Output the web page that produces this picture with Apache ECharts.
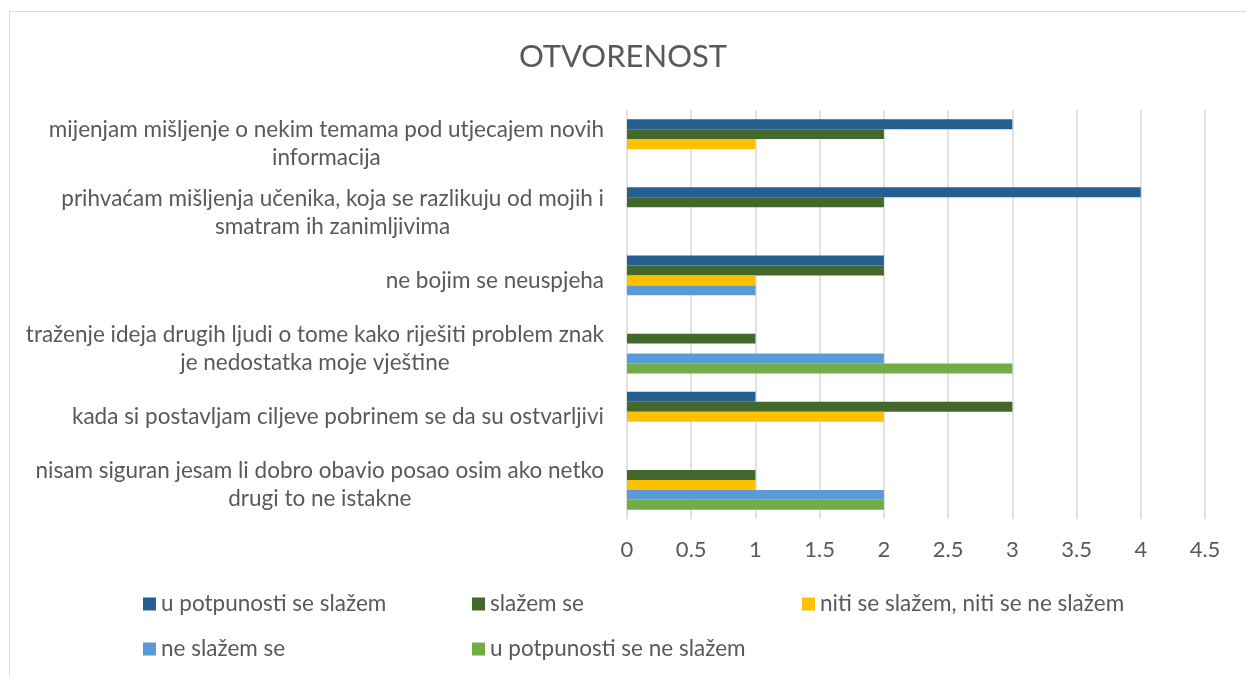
<!DOCTYPE html>
<html>
<head>
<meta charset="utf-8">
<script src="https://cdn.jsdelivr.net/npm/echarts@6/dist/echarts.min.js"></script>
<style>
  html, body { margin: 0; padding: 0; background: #fff; }
  #frame {
    position: absolute; left: 9px; top: 11px;
    width: 1300px; height: 720px;
    border: 1px solid #d9d9d9; box-sizing: border-box;
  }
  #chart { position: absolute; left: 0; top: 0; width: 1246px; height: 676px; }
</style>
</head>
<body>
<div id="frame"></div>
<div id="chart"></div>
<script>
// kategorije (odozgo prema dolje)
const categories = [
  'mijenjam mišljenje o nekim temama pod utjecajem novih\ninformacija',
  'prihvaćam mišljenja učenika, koja se razlikuju od mojih i\nsmatram ih zanimljivima',
  'ne bojim se neuspjeha',
  'traženje ideja drugih ljudi o tome kako riješiti problem znak\nje nedostatka moje vještine',
  'kada si postavljam ciljeve pobrinem se da su ostvarljivi',
  'nisam siguran jesam li dobro obavio posao osim ako netko\ndrugi to ne istakne'
]

const seriesNames = [
  'u potpunosti se slažem',
  'slažem se',
  'niti se slažem, niti se ne slažem',
  'ne slažem se',
  'u potpunosti se ne slažem'
]

const potpunoSlazem = [3, 4, 2, 0, 1, 0]
const slazem = [2, 2, 2, 1, 3, 1]
const niti = [1, 0, 1, 0, 2, 1]
const neSlazem = [0, 0, 1, 2, 0, 2]
const potpunoNeSlazem = [0, 0, 0, 3, 0, 2]

const colors = ['#255e91', '#43682b', '#ffc000', '#5b9bd5', '#70ad47']
const values = [potpunoSlazem, slazem, niti, neSlazem, potpunoNeSlazem]

const FONT = 'Lato'
const TEXT = '#595959'

const chart = echarts.init(document.getElementById('chart'))

const legendBase = {
  orient: 'vertical',
  top: 592,
  padding: 0,
  itemWidth: 13,
  itemHeight: 13,
  itemGap: 21,
  icon: 'rect',
  textStyle: { color: TEXT, fontFamily: FONT, fontSize: 22.5, lineHeight: 24 }
}

const option = {
  animation: false,
  backgroundColor: 'transparent',
  color: colors,
  title: {
    text: 'OTVORENOST',
    left: 'center',
    top: 36,
    textStyle: { color: TEXT, fontFamily: FONT, fontSize: 31, fontWeight: 'normal' }
  },
  legend: [
    Object.assign({}, legendBase, { left: 143, data: [seriesNames[0], seriesNames[3]] }),
    Object.assign({}, legendBase, { left: 472, data: [seriesNames[1], seriesNames[4]] }),
    Object.assign({}, legendBase, { left: 802, data: [seriesNames[2]] })
  ],
  grid: { left: 627, top: 110, width: 578, height: 409 },
  xAxis: {
    type: 'value',
    min: 0,
    max: 4.5,
    interval: 0.5,
    axisLine: { show: false },
    axisTick: { show: false },
    splitLine: { lineStyle: { color: '#d9d9d9', width: 1.5 } },
    axisLabel: { color: TEXT, fontFamily: FONT, fontSize: 22, margin: 20 }
  },
  yAxis: {
    type: 'category',
    inverse: true,
    data: categories,
    axisLine: { show: false },
    axisTick: { show: false },
    axisLabel: {
      interval: 0,
      margin: 23,
      formatter: v => '{c|' + v + '}',
      rich: {
        c: { align: 'center', color: TEXT, fontFamily: FONT, fontSize: 22.5, lineHeight: 28 }
      }
    }
  },
  series: seriesNames.map((name, i) => ({
    name: name,
    type: 'bar',
    data: values[i],
    barGap: '0%',
    barCategoryGap: '27%',
    itemStyle: { color: colors[i] }
  }))
}

chart.setOption(option)
</script>
</body>
</html>
